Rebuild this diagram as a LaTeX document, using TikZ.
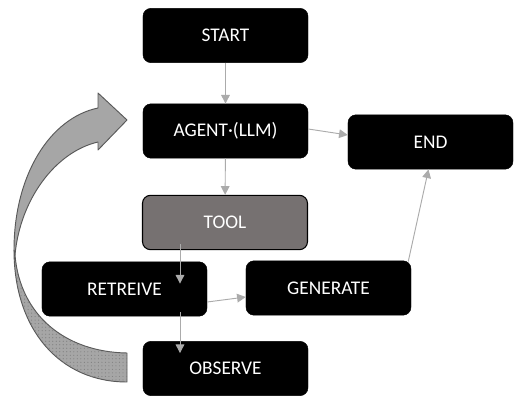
\documentclass[tikz,border=0pt]{standalone}
\usepackage{fontspec}
\setmainfont{Carlito}
\usetikzlibrary{arrows.meta, calc, patterns}
\definecolor{toolgray}{HTML}{767171}
\definecolor{arrowgray}{HTML}{ABABAB}
\definecolor{loopgray}{HTML}{A6A6A6}
\definecolor{loopline}{HTML}{595959}
\definecolor{loopdots}{HTML}{808080}

\begin{document}
\begin{tikzpicture}[
    x=0.03cm, y=-0.03cm,
    every node/.style = {rounded corners=0.24cm, minimum width=4.95cm, minimum height=1.63cm,
                         inner sep=0pt, text=white, font=\fontsize{16.5}{19}\selectfont},
    box/.style = {fill=black, draw=black},
    toolbox/.style = {fill=toolgray, draw=black, line width=0.9pt},
    arr/.style = {-{Triangle[length=2.6mm, width=2.6mm]}, draw=arrowgray, line width=0.8pt},
    loop/.style = {fill=loopgray, draw=loopline, line width=0.8pt, line join=round}
]
\useasboundingbox (0,0) rectangle (518,401);

% Loop arrow
\path[loop, postaction={pattern=dots, pattern color=loopdots}]
    (14,250) .. controls (14,330) and (60,382) .. (127,382) -- (127,353)
    .. controls (65,352) and (20,315) .. (15,255) -- cycle;
\path[loop]
    (14,250) .. controls (14,175) and (50,118) .. (98,108) -- (98,93) -- (127,120)
    -- (98,150) -- (98,142) .. controls (55,152) and (20,200) .. (15,255) -- cycle;

% Steps
\node[box] (start) at (225.5,35.5) {START};
\node[box] (agent) at (225.5,131) {AGENT·(LLM)};
\node[toolbox] (tool) at (225,222.5) {TOOL};
\node[box] (retrieve) at (124.5,289) {RETREIVE};
\node[box] (generate) at (328.5,288) {GENERATE};
\node[box] (observe) at (225.5,368.5) {OBSERVE};
\node[box] (stop) at (430.5,142) {END};

% Connectors
\draw[arr] (start) -- (agent);
\draw[arr] (agent) -- (tool);
\draw[arr] ($(agent.east)+(0,-2)$) -- ($(stop.west)+(0,-7)$);
\draw[arr] ($(tool.south)+(-45,-6)$) -- ($(retrieve.north)+(55.5,22)$);
\draw[arr] ($(retrieve.south)+(55.5,-4)$) -- ($(observe.north)+(-45.5,12)$);
\draw[arr] ($(retrieve.east)+(0,13)$) -- ($(generate.west)+(0,9)$);
\draw[arr] ($(generate.north east)+(-3,1)$) -- ($(stop.south)+(-2,0)$);

\end{tikzpicture}
\end{document}
